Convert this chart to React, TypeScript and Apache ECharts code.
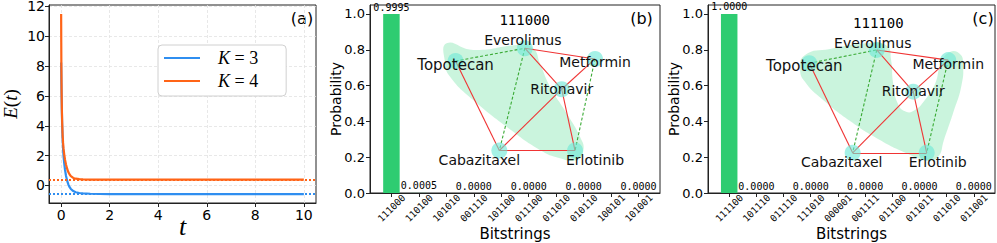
import React, { useEffect, useRef } from 'react';
import * as echarts from 'echarts';

// ---------- Panel (a): energy vs time ----------
const tK3 = [0, 0.01, 0.02, 0.03, 0.04, 0.06, 0.08, 0.1, 0.13, 0.16, 0.2, 0.25, 0.3, 0.35, 0.4, 0.5, 0.6, 0.75, 0.9, 1.2, 2.0, 10];
const eK3 = [8.25, 6.9, 5.9, 5.0, 4.2, 3.2, 2.45, 1.95, 1.45, 1.05, 0.65, 0.3, 0.05, -0.12, -0.24, -0.38, -0.46, -0.51, -0.54, -0.56, -0.58, -0.58];
const tK4 = [0, 0.005, 0.01, 0.02, 0.03, 0.045, 0.06, 0.08, 0.1, 0.13, 0.16, 0.2, 0.25, 0.3, 0.35, 0.4, 0.5, 0.6, 0.75, 0.9, 1.2, 10];
const eK4 = [11.5, 9.6, 8.0, 6.2, 5.1, 4.1, 3.4, 2.85, 2.45, 2.05, 1.72, 1.4, 1.1, 0.88, 0.73, 0.62, 0.5, 0.45, 0.42, 0.4, 0.39, 0.39];
const groundK3 = -0.58;
const groundK4 = 0.39;
const xTicksA = [0, 2, 4, 6, 8, 10];
const yTicksA = [0, 2, 4, 6, 8, 10, 12];

// ---------- Panels (b), (c): bitstring probabilities ----------
const bitstringsB = ['111000', '110100', '101010', '001110', '101100', '011100', '011010', '010110', '100101', '101001'];
const probsB = [0.9995, 0.0005, 0, 0, 0, 0, 0, 0, 0, 0];
const bitstringsC = ['111100', '101110', '011110', '111010', '000001', '001111', '011100', '011011', '011010', '011001'];
const probsC = [1.0, 0, 0, 0, 0, 0, 0, 0, 0, 0];
const yTicksProb = [0, 0.2, 0.4, 0.6, 0.8, 1.0];
const titleB = '111000';
const titleC = '111100';

// ---------- Drug network (overlay, 0..100 units) ----------
const drugs = ['Everolimus', 'Topotecan', 'Metformin', 'Ritonavir', 'Cabazitaxel', 'Erlotinib'];
const nodeXB = [53.4, 29.5, 77.6, 66.1, 44.6, 70.7];
const nodeYB = [77.0, 70.2, 71.3, 55.2, 22.6, 22.6];
const nodeXC = [58.8, 35.3, 83.7, 71.5, 50.4, 76.2];
const nodeYC = [76.1, 69.0, 70.7, 53.9, 21.4, 21.4];
const greenEdges = [['Topotecan', 'Everolimus'], ['Everolimus', 'Cabazitaxel'], ['Metformin', 'Erlotinib']];
const redEdges = [
  ['Everolimus', 'Metformin'], ['Everolimus', 'Ritonavir'], ['Topotecan', 'Cabazitaxel'],
  ['Cabazitaxel', 'Ritonavir'], ['Cabazitaxel', 'Erlotinib'], ['Ritonavir', 'Metformin'], ['Ritonavir', 'Erlotinib'],
];
const hullB = [
  [26.4, 79.6], [35.6, 76.1], [51.7, 78.7], [56.3, 77.0], [58.6, 69.0], [62.1, 56.5], [67.8, 42.4],
  [72.4, 29.9], [73.6, 22.9], [71.3, 17.6], [65.5, 18.5], [58.6, 22.9], [47.1, 35.3], [35.6, 49.5],
  [27.6, 61.9], [25.9, 69.0],
];
const hullC = [
  [32.1, 65.4], [33.8, 73.4], [42.5, 76.6], [56.4, 79.8], [62.4, 78.2], [63.8, 70.7], [64.5, 58.5],
  [66.2, 47.3], [69.0, 43.2], [72.1, 44.1], [75.3, 48.9], [79.1, 58.0], [81.2, 69.1], [84.3, 75.0],
  [87.8, 73.9], [88.9, 68.1], [88.2, 56.4], [85.4, 42.6], [82.2, 28.2], [80.1, 19.1], [76.0, 17.6],
  [69.0, 21.3], [59.9, 28.2], [49.5, 38.3], [39.7, 50.0], [34.1, 58.5],
];

// label offsets (px) — styling, kept separate from data
const labelOffB = [[-2, -8], [0, 4], [0, 3], [0, 0], [-20, 9], [20, 9]];
const labelOffC = [[-4, -7], [-5, 3], [0, 4], [0, -1], [-11, 9], [11, 9]];

const BLUE = '#2f8ef0';
const ORANGE = '#ff6417';
const BAR = '#2ecc71';
const AXC = '#222';

function barAxes(gridIndex: number, labels: string[]) {
  const idx = labels.map((_, i) => i);
  const x = {
    gridIndex, type: 'value', min: -0.78, max: 9.78,
    axisLine: { show: true, onZero: false, lineStyle: { color: AXC } },
    axisTick: { show: true, length: 4, customValues: idx, lineStyle: { color: AXC } },
    axisLabel: {
      customValues: idx, formatter: (v: number) => labels[Math.round(v)] ?? '',
      rotate: 45, align: 'center', verticalAlign: 'middle', margin: 15,
      fontFamily: 'DejaVu Sans Mono', fontSize: 9.5, color: '#000',
    },
    splitLine: { show: false },
    name: 'Bitstrings', nameLocation: 'middle', nameGap: 33, nameMoveOverlap: false,
    nameTextStyle: { fontSize: 15, color: '#000', fontFamily: 'DejaVu Sans' },
  };
  const y = {
    gridIndex, type: 'value', min: 0, max: 1.05,
    axisLine: { show: true, onZero: false, lineStyle: { color: AXC } },
    axisTick: { show: true, length: 4, customValues: yTicksProb, lineStyle: { color: AXC } },
    axisLabel: { customValues: yTicksProb, formatter: (v: number) => v.toFixed(1), fontSize: 13, color: '#000', margin: 5 },
    splitLine: { show: false },
    name: 'Probability', nameLocation: 'middle', nameRotate: 90, nameGap: 27, nameMoveOverlap: false,
    nameTextStyle: { fontSize: 14, color: '#000', fontFamily: 'DejaVu Sans' },
  };
  const ox = { gridIndex, type: 'value', min: 0, max: 100, show: false };
  const oy = { gridIndex, type: 'value', min: 0, max: 100, show: false };
  return { x, y, ox, oy };
}

function panelSeries(axisBar: number, axisNet: number, probs: number[], nx: number[], ny: number[], offs: number[][], hull: number[][]) {
  const bar = {
    type: 'bar', xAxisIndex: axisBar, yAxisIndex: axisBar,
    data: probs.map((p, i) => [i, p]), barWidth: 16.5,
    itemStyle: { color: BAR },
    label: {
      show: true, position: 'top', distance: 2,
      formatter: (p: any) => (p.dataIndex === 0 || p.dataIndex % 2 === 1 ? Number(p.value[1]).toFixed(4) : ''),
      fontFamily: 'DejaVu Sans Mono', fontSize: 10, color: '#000',
    },
    silent: true,
  };
  const blob = {
    type: 'custom', xAxisIndex: axisNet, yAxisIndex: axisNet, z: 1, silent: true,
    data: [[50, 50]],
    renderItem: (_params: any, api: any) => ({
      type: 'polygon',
      shape: { points: hull.map((p) => api.coord(p)), smooth: 0.5 },
      style: { fill: 'rgba(60,215,130,0.27)' },
    }),
  };
  const mkLink = (e: string[], color: string, type: any) => ({ source: e[0], target: e[1], lineStyle: { color, type, width: 1.1, opacity: 1 } });
  const graph = {
    type: 'graph', coordinateSystem: 'cartesian2d', xAxisIndex: axisNet, yAxisIndex: axisNet, z: 3,
    layout: 'none', symbol: 'circle', symbolSize: 16, silent: true,
    itemStyle: { color: 'rgba(110,232,215,0.62)' },
    lineStyle: { opacity: 1, width: 1.1 },
    label: { show: true, position: 'inside', fontSize: 14, color: '#111', fontFamily: 'DejaVu Sans' },
    emphasis: { disabled: true },
    data: drugs.map((d, i) => ({
      name: d, value: [nx[i], ny[i]],
      label: { offset: offs[i], fontSize: d === 'Topotecan' ? 15 : 14 },
    })),
    links: [
      ...greenEdges.map((e) => mkLink(e, '#3aaa35', [3, 2])),
      ...redEdges.map((e) => mkLink(e, '#f03434', 'solid')),
    ],
  };
  return [bar, blob, graph];
}

const gridBase = { show: true, borderColor: AXC, borderWidth: 1, backgroundColor: 'transparent', containLabel: false, outerBoundsMode: 'none' };

export default function App() {
  const ref = useRef<HTMLDivElement>(null);
  useEffect(() => {
    document.body.style.margin = '0';
    const chart = echarts.init(ref.current!, undefined, { renderer: 'svg' });
    const b = barAxes(1, bitstringsB);
    const c = barAxes(2, bitstringsC);
    const option: any = {
      animation: false,
      textStyle: { fontFamily: 'DejaVu Sans' },
      grid: [
        { ...gridBase, left: 49, top: 5, width: 267, height: 198 },
        { ...gridBase, left: 370, top: 5, width: 290, height: 188 },
        { ...gridBase, left: 708, top: 5, width: 287, height: 188 },
      ],
      xAxis: [
        {
          gridIndex: 0, type: 'value', min: -0.5, max: 10.5,
          axisLine: { show: true, onZero: false, lineStyle: { color: AXC } },
          axisTick: { show: true, length: 4, customValues: xTicksA, lineStyle: { color: AXC } },
          axisLabel: { customValues: xTicksA, fontSize: 14, color: '#000', margin: 5 },
          splitLine: { show: true, lineStyle: { color: '#e2e2e2', type: [3, 2], width: 0.8 } },
          name: 't', nameLocation: 'middle', nameGap: 10, nameMoveOverlap: false,
          nameTextStyle: { fontFamily: 'Liberation Serif', fontStyle: 'italic', fontSize: 26, color: '#000' },
        },
        b.x, b.ox, c.x, c.ox,
      ],
      yAxis: [
        {
          gridIndex: 0, type: 'value', min: -1.18, max: 12.1,
          axisLine: { show: true, onZero: false, lineStyle: { color: AXC } },
          axisTick: { show: true, length: 4, customValues: yTicksA, lineStyle: { color: AXC } },
          axisLabel: { customValues: yTicksA, fontSize: 14, color: '#000', margin: 4 },
          splitLine: { show: true, lineStyle: { color: '#e2e2e2', type: [3, 2], width: 0.8 } },
          name: '{i|E}{u|(}{i|t}{u|)}', nameLocation: 'middle', nameRotate: 90, nameGap: 29, nameMoveOverlap: false,
          nameTextStyle: {
            rich: {
              i: { fontFamily: 'Liberation Serif', fontStyle: 'italic', fontSize: 19, color: '#000' },
              u: { fontFamily: 'Liberation Serif', fontSize: 19, color: '#000' },
            },
          },
        },
        b.y, b.oy, c.y, c.oy,
      ],
      legend: {
        left: 158, top: 45, orient: 'vertical', icon: 'rect', itemWidth: 36, itemHeight: 2.2, itemGap: 5,
        padding: [4, 28, 6, 6], borderColor: '#d0d0d0', borderWidth: 1, borderRadius: 4, backgroundColor: '#fff',
        selectedMode: false,
        data: ['K = 3', 'K = 4'],
        formatter: (n: string) => `{i|K}{n|${n.slice(1)}}`,
        textStyle: {
          rich: {
            i: { fontFamily: 'Liberation Serif', fontStyle: 'italic', fontSize: 18, color: '#000', padding: [0, 0, 0, 13] },
            n: { fontFamily: 'Liberation Serif', fontSize: 18, color: '#000' },
          },
        },
      },
      graphic: [
        { type: 'text', x: 302, y: 18, style: { text: '(a)', fontSize: 16, fontFamily: 'DejaVu Sans', fill: '#000', align: 'center', verticalAlign: 'middle' } },
        { type: 'text', x: 641.5, y: 18, style: { text: '(b)', fontSize: 16, fontFamily: 'DejaVu Sans', fill: '#000', align: 'center', verticalAlign: 'middle' } },
        { type: 'text', x: 983, y: 18, style: { text: '(c)', fontSize: 16, fontFamily: 'DejaVu Sans', fill: '#000', align: 'center', verticalAlign: 'middle' } },
        { type: 'text', x: 524.7, y: 20, z: 10, style: { text: titleB, fontSize: 14, fontFamily: 'DejaVu Sans Mono', fill: '#000', align: 'center', verticalAlign: 'middle' } },
        { type: 'text', x: 878.3, y: 23.3, z: 10, style: { text: titleC, fontSize: 14, fontFamily: 'DejaVu Sans Mono', fill: '#000', align: 'center', verticalAlign: 'middle' } },
      ],
      series: [
        {
          type: 'line', name: 'K = 3', xAxisIndex: 0, yAxisIndex: 0,
          data: tK3.map((t, i) => [t, eK3[i]]), showSymbol: false, symbol: 'none',
          lineStyle: { width: 2.2, color: BLUE }, itemStyle: { color: BLUE },
          markLine: { silent: true, symbol: 'none', label: { show: false }, lineStyle: { type: 'dotted', width: 2, color: BLUE }, data: [{ yAxis: groundK3 }] },
        },
        {
          type: 'line', name: 'K = 4', xAxisIndex: 0, yAxisIndex: 0,
          data: tK4.map((t, i) => [t, eK4[i]]), showSymbol: false, symbol: 'none',
          lineStyle: { width: 2.2, color: ORANGE }, itemStyle: { color: ORANGE },
          markLine: { silent: true, symbol: 'none', label: { show: false }, lineStyle: { type: 'dotted', width: 2, color: ORANGE }, data: [{ yAxis: groundK4 }] },
        },
        ...panelSeries(1, 2, probsB, nodeXB, nodeYB, labelOffB, hullB),
        ...panelSeries(3, 4, probsC, nodeXC, nodeYC, labelOffC, hullC),
      ],
    };
    chart.setOption(option);
    return () => chart.dispose();
  }, []);
  return <div ref={ref} style={{ position: 'absolute', left: 0, top: 0, width: 997, height: 243 }} />;
}
